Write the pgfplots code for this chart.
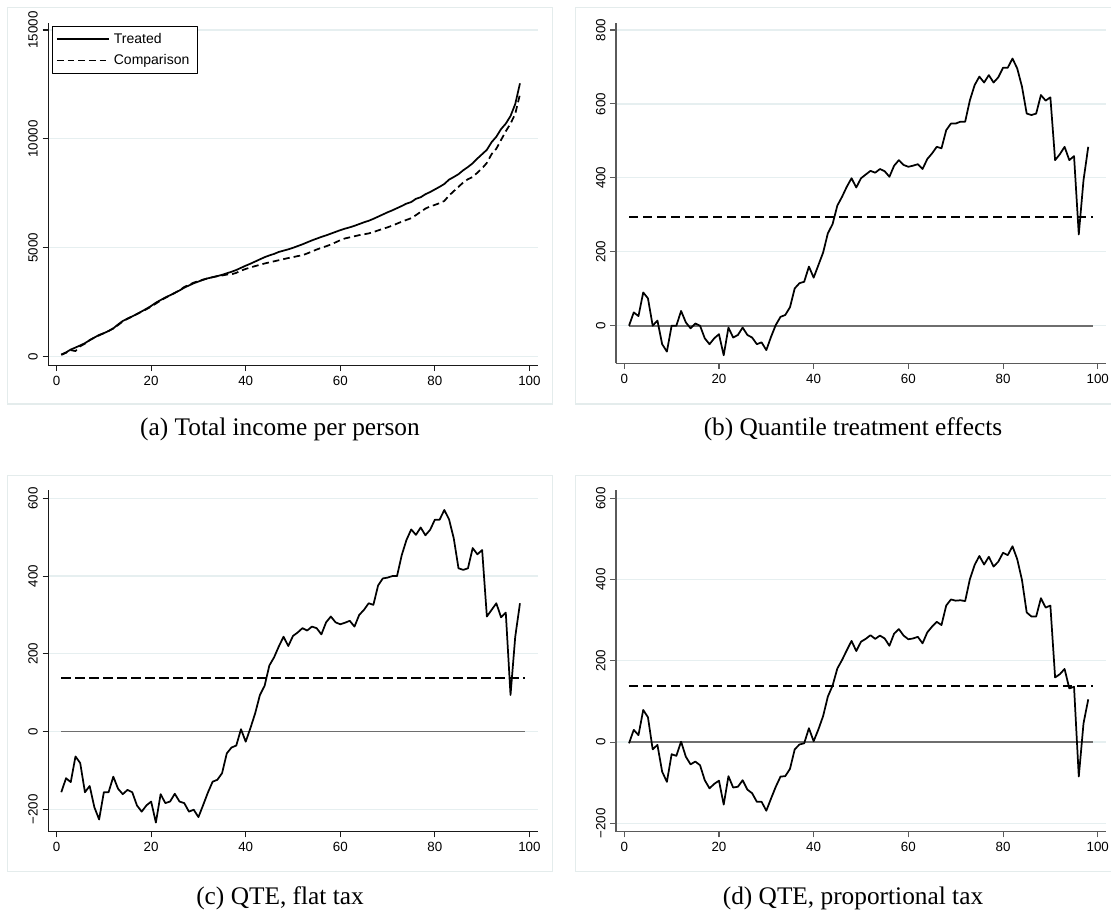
\documentclass[border=0pt]{standalone}
\usepackage{fontspec}
\setmainfont{Liberation Serif}
\newfontfamily\arial{Liberation Sans}
\usepackage{pgfplots}
\usepackage{pgfplotstable}
\pgfplotsset{compat=1.18}
\definecolor{framec}{HTML}{E4ECEC}
\definecolor{gridc}{HTML}{E6EFF0}
\definecolor{zeroc}{HTML}{6E6E6E}
\definecolor{axisdark}{HTML}{1A1A1A}
\definecolor{axisgray}{HTML}{5A5A5A}

\pgfplotstableread{
x t c
1 100 80
2 200 180
3 330 300
4 420 260
5 520 480
6 620 600
7 760 760
8 880 880
9 1000 980
10 1080 1080
11 1180 1180
12 1300 1300
13 1480 1450
14 1640 1620
15 1750 1740
16 1850 1850
17 1960 1960
18 2080 2070
19 2200 2180
20 2330 2300
21 2480 2440
22 2600 2580
23 2720 2700
24 2820 2820
25 2930 2930
26 3040 3050
27 3170 3200
28 3270 3300
29 3370 3400
30 3450 3470
31 3530 3540
32 3600 3600
33 3650 3650
34 3700 3700
35 3760 3730
36 3830 3770
37 3900 3780
38 3980 3850
39 4080 3950
40 4180 4030
41 4270 4100
42 4370 4160
43 4470 4220
44 4570 4280
45 4650 4330
46 4720 4380
47 4810 4430
48 4870 4480
49 4930 4530
50 5000 4570
51 5080 4620
52 5160 4660
53 5250 4740
54 5340 4830
55 5420 4920
56 5500 5000
57 5570 5070
58 5650 5150
59 5730 5250
60 5810 5350
61 5880 5430
62 5940 5480
63 6010 5530
64 6090 5580
65 6170 5620
66 6240 5660
67 6330 5720
68 6430 5800
69 6530 5870
70 6630 5940
71 6720 6020
72 6820 6110
73 6920 6200
74 7030 6280
75 7100 6360
76 7250 6500
77 7320 6650
78 7460 6800
79 7560 6900
80 7680 6970
81 7800 7050
82 7930 7150
83 8130 7400
84 8250 7600
85 8380 7800
86 8560 8000
87 8710 8150
88 8880 8250
89 9100 8450
90 9300 8650
91 9500 8900
92 9850 9300
93 10100 9550
94 10450 9950
95 10700 10350
96 11050 10700
97 11600 11150
98 12550 12050
}\dataA

\pgfplotstableread{
x b c d
1 0 -156 -3
2 36 -120 30
3 26 -130 17
4 90 -64 79
5 74 -81 61
6 0 -156 -18
7 14 -140 -7
8 -50 -195 -73
9 -70 -226 -98
10 0 -156 -30
11 0 -156 -34
12 40 -116 1
13 9 -147 -36
14 -7 -161 -55
15 6 -150 -48
16 0 -156 -57
17 -34 -190 -94
18 -50 -206 -114
19 -34 -190 -103
20 -23 -180 -95
21 -80 -234 -154
22 -5 -161 -84
23 -32 -184 -112
24 -25 -180 -110
25 -5 -160 -94
26 -25 -180 -117
27 -32 -184 -126
28 -50 -206 -147
29 -45 -201 -147
30 -66 -220 -169
31 -30 -189 -139
32 2 -157 -110
33 24 -129 -85
34 29 -124 -84
35 50 -107 -66
36 101 -56 -18
37 115 -41 -6
38 119 -36 -3
39 160 6 34
40 130 -26 2
41 164 9 31
42 198 47 64
43 250 94 112
44 275 118 139
45 325 170 181
46 349 191 202
47 376 219 226
48 399 244 249
49 374 220 224
50 399 246 247
51 409 255 254
52 419 266 263
53 414 260 254
54 424 270 262
55 418 266 255
56 403 250 237
57 433 281 267
58 448 296 278
59 435 281 262
60 430 276 253
61 433 280 255
62 437 285 259
63 424 270 243
64 451 300 270
65 466 313 284
66 484 330 296
67 480 326 288
68 529 376 336
69 547 394 351
70 547 396 348
71 552 400 349
72 552 400 347
73 610 454 401
74 651 493 436
75 674 520 458
76 658 506 437
77 678 525 456
78 658 505 432
79 672 519 444
80 698 545 466
81 698 545 460
82 723 570 482
83 696 546 450
84 647 497 399
85 574 420 319
86 570 416 309
87 574 420 309
88 624 472 354
89 609 456 331
90 618 467 336
91 448 296 159
92 464 313 167
93 484 330 180
94 448 294 132
95 459 306 136
96 247 94 -85
97 394 244 46
98 484 330 105
}\dataQ

\pgfplotstableread{
x v
1 0
99 0
}\zeroline

\pgfplotsset{
  stata/.style={
    scale only axis,
    axis x line*=bottom, axis y line*=left,
    axis line style={-, line width=0.9pt, #1},
    tick style={line width=0.8pt, #1},
    tick align=outside, major tick length=4.3pt,
    xmin=-1.75, xmax=101.75,
    xtick={0,20,40,60,80,100},
    xticklabels={0,20,40,60,80,100},
    scaled y ticks=false, scaled x ticks=false,
    ymajorgrids, grid style={gridc, line width=0.9pt},
    ticklabel style={font=\arial\fontsize{10}{12}\selectfont},
    yticklabel style={rotate=90, anchor=south},
    line join=round,
  },
  curve/.style={black, line width=1.3pt, line join=round},
  zerol/.style={zeroc, line width=1.3pt},
  meanl/.style={black, line width=1.5pt, dash pattern=on 7pt off 3.5pt},
}

\begin{document}
\begin{tikzpicture}
\useasboundingbox (0pt,0pt) rectangle (833.25pt,-685.5pt);
% panel frames
\draw[framec, line width=0.8pt] (5.475pt,-5.475pt) rectangle (414.2pt,-303pt);
\draw[framec, line width=0.8pt] (860pt,-5.475pt) -- (431.8pt,-5.475pt) -- (431.8pt,-303pt) -- (860pt,-303pt);
\draw[framec, line width=0.8pt] (5.475pt,-356.8pt) rectangle (414.2pt,-653.8pt);
\draw[framec, line width=0.8pt] (860pt,-356.8pt) -- (431.8pt,-356.8pt) -- (431.8pt,-653.8pt) -- (860pt,-653.8pt);

% (a)
\begin{axis}[stata=axisdark,
  at={(36.225pt,-273.975pt)}, anchor=south west,
  width=367.05pt, height=256.95pt,
  ymin=-395, ymax=15335,
  ytick={0,5000,10000,15000}, yticklabels={0,5000,10000,15000},
  legend style={at={(0.007,0.9904)}, anchor=north west, draw=black, line width=0.6pt,
    font=\arial\fontsize{10.5}{12}\selectfont, inner xsep=3pt, inner ysep=3pt,
    row sep=3pt, cells={anchor=west}, nodes={inner xsep=3pt, inner ysep=2pt}},
  legend image code/.code={\draw[#1] (0pt,0pt) -- (39pt,0pt);},
  legend cell align=left,
]
\addplot[curve] table[x=x, y=t] {\dataA};
\addlegendentry{Treated}
\addplot[curve, dash pattern=on 5pt off 3pt] table[x=x, y=c] {\dataA};
\addlegendentry{Comparison}
\end{axis}

% (b)
\begin{axis}[stata=axisgray,
  at={(462pt,-272.475pt)}, anchor=south west,
  width=367.5pt, height=255.45pt,
  ymin=-101.7, ymax=819.8,
  ytick={0,200,400,600,800}, yticklabels={0,200,400,600,800},
]
\addplot[zerol] table[x=x, y=v] {\zeroline};
\addplot[meanl] coordinates {(1,293) (99,293)};
\addplot[curve] table[x=x, y=b] {\dataQ};
\end{axis}

% (c)
\begin{axis}[stata=axisdark,
  at={(36.225pt,-623.775pt)}, anchor=south west,
  width=367.05pt, height=256.275pt,
  ymin=-257.6, ymax=621.4,
  ytick={-200,0,200,400,600}, yticklabels={−200,0,200,400,600},
]
\addplot[zerol] table[x=x, y=v] {\zeroline};
\addplot[meanl] coordinates {(1,139) (99,139)};
\addplot[curve] table[x=x, y=c] {\dataQ};
\end{axis}

% (d)
\begin{axis}[stata=axisgray,
  at={(462pt,-623.775pt)}, anchor=south west,
  width=367.5pt, height=256.275pt,
  ymin=-220.7, ymax=620.4,
  ytick={-200,0,200,400,600}, yticklabels={−200,0,200,400,600},
]
\addplot[zerol] table[x=x, y=v] {\zeroline};
\addplot[meanl] coordinates {(1,138) (99,138)};
\addplot[curve] table[x=x, y=d] {\dataQ};
\end{axis}

% captions
\node[font=\fontsize{19}{22}\selectfont] at (210pt,-322pt) {(a) Total income per person};
\node[font=\fontsize{19}{22}\selectfont] at (639.75pt,-322pt) {(b) Quantile treatment effects};
\node[font=\fontsize{19}{22}\selectfont] at (210pt,-673.5pt) {(c) QTE, flat tax};
\node[font=\fontsize{19}{22}\selectfont] at (639.75pt,-673.5pt) {(d) QTE, proportional tax};
\end{tikzpicture}
\end{document}
